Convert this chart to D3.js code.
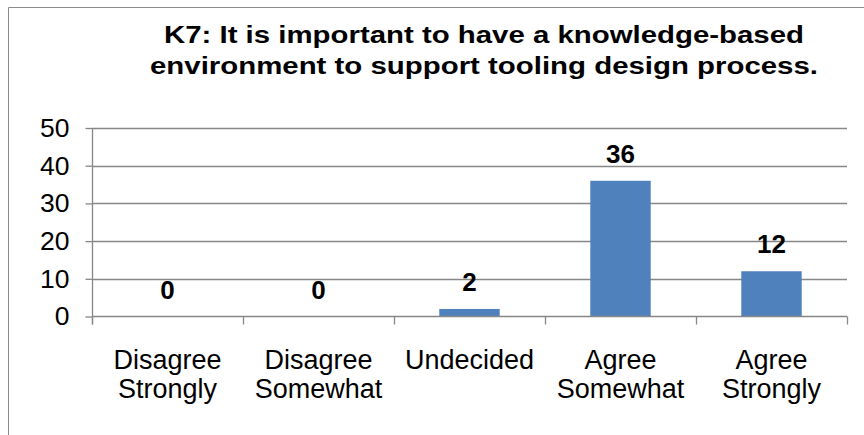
<!DOCTYPE html>
<html>
<head>
<meta charset="utf-8">
<script src="https://cdn.jsdelivr.net/npm/d3@7"></script>
<style>
  html, body { margin: 0; padding: 0; background: #fff; }
  svg { display: block; font-family: "Liberation Sans", Arial, sans-serif; }
</style>
</head>
<body>
<svg id="chart" width="864" height="435"></svg>
<script>
// Survey responses for statement K7
const categories = [["Disagree", "Strongly"], ["Disagree", "Somewhat"], ["Undecided"], ["Agree", "Somewhat"], ["Agree", "Strongly"]];
const counts = [0, 0, 2, 36, 12];
const yTicks = [0, 10, 20, 30, 40, 50];
const titleLines = ["K7: It is important to have a knowledge-based", "environment to support tooling design process."];

const svg = d3.select("#chart");
const gridColor = "#878787";

// chart frame
svg.append("path")
  .attr("d", "M8.5,436 V7.5 H865")
  .attr("fill", "none").attr("stroke", "#8c8c8c").attr("stroke-width", 1);

const plot = { left: 92, right: 847, top: 128, bottom: 316.5 };

const x = d3.scaleBand()
  .domain(d3.range(categories.length))
  .range([plot.left, plot.right])
  .paddingInner(0).paddingOuter(0);

const y = d3.scaleLinear().domain([0, 50]).range([plot.bottom, plot.top]);

// title, two centred bold lines (wide face)
const titleWidths = [640, 668];
svg.append("g").selectAll("text").data(titleLines).join("text")
  .attr("x", 484).attr("y", (d, i) => 43 + i * 31)
  .attr("text-anchor", "middle")
  .attr("font-weight", "bold").attr("font-size", 23.5)
  .attr("textLength", (d, i) => titleWidths[i])
  .attr("lengthAdjust", "spacingAndGlyphs")
  .text(d => d);

// horizontal gridlines
svg.append("g").selectAll("line").data(yTicks.filter(t => t > 0)).join("line")
  .attr("x1", plot.left).attr("x2", plot.right)
  .attr("y1", d => Math.round(y(d)) + 0.5).attr("y2", d => Math.round(y(d)) + 0.5)
  .attr("stroke", gridColor).attr("stroke-width", 1.3);

// y axis
const yAxis = d3.axisLeft(y).tickValues(yTicks).tickSize(7).tickPadding(16);
const gy = svg.append("g").attr("transform", `translate(${plot.left + 0.5},0)`).call(yAxis);
gy.select(".domain").remove();
gy.append("line").attr("x1", 0).attr("x2", 0).attr("y1", plot.top).attr("y2", plot.bottom + 8)
  .attr("stroke", gridColor).attr("stroke-width", 1.3);
gy.selectAll(".tick line").attr("stroke", gridColor).attr("stroke-width", 1.3);
gy.selectAll(".tick text")
  .attr("font-size", 26.5).attr("fill", "#000")
  .attr("font-family", "Liberation Sans, Arial, sans-serif");

// bars
svg.append("g").selectAll("rect").data(counts).join("rect")
  .attr("x", (d, i) => x(i) + x.bandwidth() * 0.3)
  .attr("width", x.bandwidth() * 0.4)
  .attr("y", d => y(d))
  .attr("height", d => y(0) - y(d))
  .attr("fill", "#4f81bd");

// x axis baseline with category boundary ticks
const gx = svg.append("g");
gx.append("line").attr("x1", plot.left).attr("x2", plot.right)
  .attr("y1", y(0)).attr("y2", y(0))
  .attr("stroke", gridColor).attr("stroke-width", 1.3);
gx.selectAll("line.tick").data(d3.range(categories.length + 1)).join("line")
  .attr("class", "tick")
  .attr("x1", i => Math.round(plot.left + i * x.step()) + 0.5)
  .attr("x2", i => Math.round(plot.left + i * x.step()) + 0.5)
  .attr("y1", y(0)).attr("y2", y(0) + 8)
  .attr("stroke", gridColor).attr("stroke-width", 1.3);

// category labels
gx.selectAll("text").data(categories).join("text")
  .attr("text-anchor", "middle")
  .attr("font-size", 27)
  .attr("y", 369)
  .each(function(lines, i) {
    const cx = x(i) + x.bandwidth() / 2;
    d3.select(this).selectAll("tspan").data(lines).join("tspan")
      .attr("x", cx).attr("dy", (d, j) => j === 0 ? 0 : 29)
      .text(d => d);
  });

// value labels
svg.append("g").selectAll("text").data(counts).join("text")
  .attr("x", (d, i) => x(i) + x.bandwidth() / 2)
  .attr("y", d => y(d) - 18)
  .attr("text-anchor", "middle")
  .attr("font-weight", "bold").attr("font-size", 26)
  .text(d => d);
</script>
</body>
</html>
